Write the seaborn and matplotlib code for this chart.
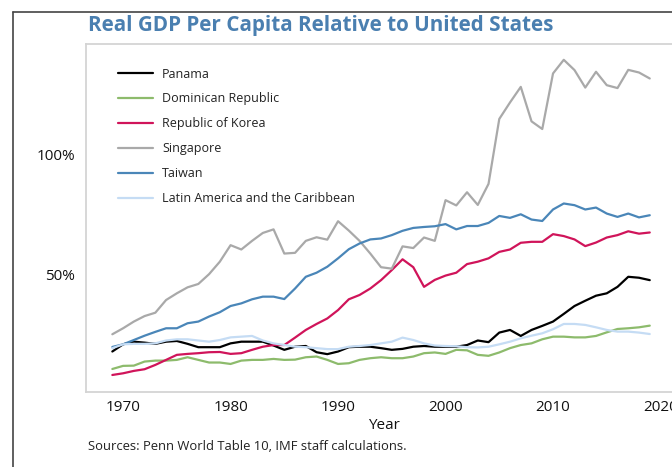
import numpy as np
import pandas as pd
import seaborn as sns
import matplotlib.pyplot as plt
from matplotlib.lines import Line2D
from matplotlib.ticker import FuncFormatter

# datos (% del PIB per capita de EEUU)
years = list(range(1969, 2020))

panama = [17.8, 20.8, 21.9, 21.5, 21.0, 21.9, 22.2, 21.0, 19.6, 19.6,
          19.6, 21.2, 21.9, 21.9, 21.9, 20.3, 18.5, 19.8, 20.1, 17.5,
          16.7, 17.8, 19.6, 19.8, 19.8, 19.2, 18.5, 18.9, 19.8, 20.1,
          19.8, 19.8, 19.8, 20.5, 22.4, 21.7, 25.7, 26.8, 24.3, 26.8,
          28.5, 30.3, 33.5, 36.8, 39.0, 41.1, 42.1, 44.8, 49.0, 48.6,
          47.6]
dominicana = [10.5, 11.8, 11.9, 13.6, 14.0, 14.0, 14.3, 15.4, 14.3, 13.2,
              13.2, 12.6, 14.0, 14.3, 14.3, 14.7, 14.3, 14.4, 15.4, 15.7,
              14.3, 12.6, 12.9, 14.3, 15.0, 15.4, 15.0, 15.0, 15.7, 17.1,
              17.4, 16.8, 18.5, 18.3, 16.4, 16.0, 17.4, 19.2, 20.5, 21.2,
              22.9, 24.0, 24.0, 23.7, 23.7, 24.3, 25.8, 27.2, 27.5, 27.9,
              28.6]
corea = [8.0, 8.7, 9.7, 10.4, 12.2, 14.3, 16.4, 16.8, 17.1, 17.5,
         17.6, 16.8, 17.1, 18.5, 19.8, 20.5, 20.5, 23.6, 26.8, 29.3,
         31.6, 35.1, 39.6, 41.4, 44.1, 47.6, 51.8, 56.3, 53.0, 44.8,
         47.7, 49.5, 50.7, 54.3, 55.3, 56.7, 59.4, 60.4, 63.2, 63.6,
         63.6, 66.8, 66.0, 64.6, 61.8, 63.3, 65.4, 66.4, 68.0, 67.0,
         67.5]
singapur = [25.0, 27.5, 30.3, 32.6, 34.0, 39.3, 42.1, 44.6, 46.0, 50.1,
            55.3, 62.2, 60.4, 64.0, 67.3, 68.8, 58.7, 59.0, 64.0, 65.5,
            64.5, 72.2, 68.3, 64.0, 58.7, 53.0, 52.4, 61.7, 61.0, 65.4,
            64.0, 81.0, 78.8, 84.3, 79.0, 87.8, 114.9, 121.8, 128.3, 113.9,
            110.7, 133.9, 139.6, 135.3, 128.0, 134.6, 129.0, 127.8, 135.4, 134.3,
            131.8]
taiwan = [19.7, 20.8, 22.6, 24.4, 26.0, 27.5, 27.5, 29.6, 30.3, 32.4,
          34.2, 36.8, 37.9, 39.6, 40.7, 40.7, 39.7, 44.1, 49.0, 50.7,
          53.2, 56.7, 60.5, 62.9, 64.6, 65.0, 66.4, 68.2, 69.4, 69.8,
          70.1, 71.0, 68.8, 70.2, 70.2, 71.5, 74.4, 73.6, 75.1, 72.9,
          72.3, 77.1, 79.6, 78.9, 77.1, 77.9, 75.4, 74.0, 75.4, 73.8,
          74.7]
latam = [19.2, 20.8, 21.0, 21.0, 21.2, 22.4, 22.9, 22.9, 22.4, 21.9,
         22.6, 23.7, 24.0, 24.3, 22.4, 21.2, 20.5, 19.8, 19.6, 19.2,
         18.8, 18.8, 19.8, 20.1, 20.5, 21.2, 21.9, 23.6, 22.6, 21.2,
         20.3, 20.1, 20.0, 19.6, 19.5, 19.8, 20.8, 21.9, 23.3, 24.4,
         25.4, 27.1, 29.3, 29.3, 28.9, 27.9, 26.8, 26.1, 26.1, 25.7,
         25.1]

paises = ["Panama", "Dominican Republic", "Republic of Korea", "Singapore",
          "Taiwan", "Latin America and the Caribbean"]
colores = ["#000000", "#8dbb6c", "#d0145a", "#a9a9a9", "#4a86b8", "#c5dcf4"]

df = pd.DataFrame({"Year": years, "Panama": panama, "Dominican Republic": dominicana,
                   "Republic of Korea": corea, "Singapore": singapur,
                   "Taiwan": taiwan, "Latin America and the Caribbean": latam})
df = df.melt(id_vars="Year", var_name="pais", value_name="valor")

sns.set_style("white")
plt.rcParams["font.family"] = ["Open Sans", "DejaVu Sans"]

fig = plt.figure(figsize=(6.72, 4.67), dpi=100)
ax = fig.add_axes([86 / 672, 1 - 391.5 / 467, 596 / 672, 347.5 / 467])

sns.lineplot(data=df, x="Year", y="valor", hue="pais", hue_order=paises,
             palette=colores, linewidth=1.6, ax=ax)

ax.set_xlim(1966.55, 2022)
ax.set_ylim(1.1, 146.2)
ax.set_xticks([1970, 1980, 1990, 2000, 2010, 2020])
ax.set_yticks([50, 100])
ax.yaxis.set_major_formatter(FuncFormatter(lambda v, p: f"{v:.0f}%"))
ax.tick_params(direction="in", length=4, width=1, color="#cccccc",
               labelsize=11, labelcolor="#111111", pad=6)
ax.tick_params(axis="y", pad=8)
for s in ax.spines.values():
    s.set_color("#d4d4d4")
    s.set_linewidth(1.3)
ax.set_xlabel("Year", fontsize=11, color="#111111", labelpad=2)
ax.set_ylabel("")

leg = ax.legend(loc="upper left", bbox_to_anchor=(118 / 672, 1 - 67.5 / 467),
                bbox_transform=fig.transFigure, frameon=False, fontsize=9,
                handlelength=2.8, handletextpad=0.72, labelspacing=0.95,
                borderpad=0, borderaxespad=0)
for t in leg.get_texts():
    t.set_color("#222222")

fig.text(88 / 672, 1 - 25.5 / 467, "Real GDP Per Capita Relative to United States",
         fontsize=14.9, fontweight="bold", color="#4a7fb0", va="center", ha="left")
fig.text(88 / 672, 1 - 446 / 467, "Sources: Penn World Table 10, IMF staff calculations.",
         fontsize=9.4, color="#222222", va="center", ha="left")

# marco exterior del recorte
fig.add_artist(Line2D([12.5 / 672, 12.5 / 672], [0, 1 - 12 / 467], color="#444444", lw=1.2))
fig.add_artist(Line2D([12.5 / 672, 1], [1 - 12 / 467, 1 - 12 / 467], color="#444444", lw=1.2))

fig.savefig("out.png", dpi=100)
